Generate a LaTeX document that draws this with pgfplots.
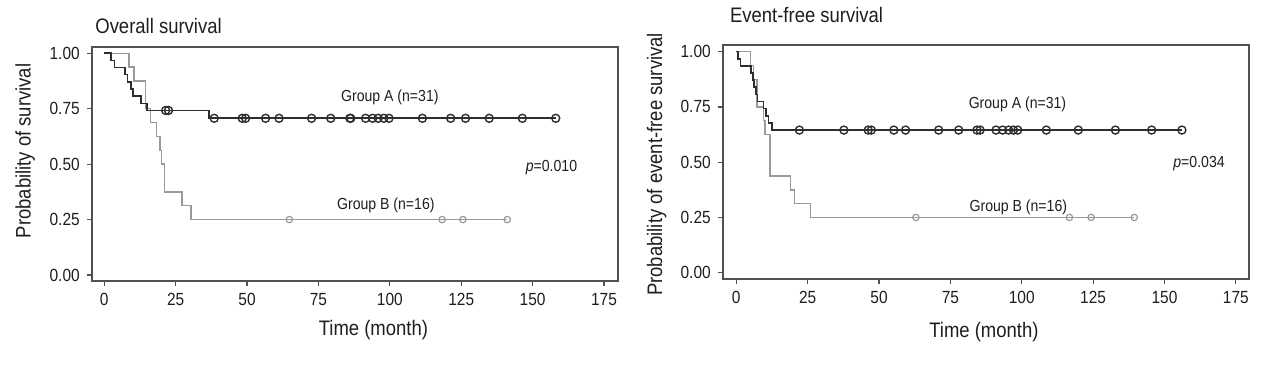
\documentclass[border=0pt]{standalone}
\usepackage{fontspec}
\setmainfont{Liberation Sans}[FakeStretch=0.88]
\usepackage{pgfplots}
\pgfplotsset{compat=1.18}
\definecolor{dk}{HTML}{2E2E2E}
\definecolor{lg}{HTML}{9A9A9A}
\definecolor{fr}{HTML}{505050}
\definecolor{tx}{HTML}{1E1E1E}
\pgfplotsset{km/.style={
  scale only axis, width=263pt, height=117pt,
  axis line style={fr, line width=0.8pt},
  tick style={fr, line width=0.6pt},
  tick align=outside, tick pos=left, major tick length=2.6pt,
  xtick={0,25,50,75,100,125,150,175},
  ytick={0,0.25,0.5,0.75,1},
  yticklabels={0.00,0.25,0.50,0.75,1.00},
  ticklabel style={font=\fontsize{8.8}{10}\selectfont, text=tx},
  /pgf/number format/assume math mode=true,
  label style={font=\fontsize{10.5}{12}\selectfont, text=tx},
  every axis title/.style={font=\fontsize{10.5}{12}\selectfont, text=tx, anchor=west},
  clip=false,
},
kmA/.style={const plot, dk, line width=0.8pt, no marks},
kmB/.style={const plot, lg, line width=0.7pt, no marks},
cA/.style={only marks, mark=o, mark size=2pt, mark options={dk, line width=0.7pt}},
cB/.style={only marks, mark=o, mark size=1.6pt, mark options={lg, line width=0.6pt}},
}
\begin{document}
\begin{tikzpicture}
\useasboundingbox (0,0) rectangle (640pt,-185.5pt);
% ---------- Overall survival ----------
\begin{axis}[km, at={(46pt,-23.5pt)}, anchor=north west,
  xmin=-4.3, xmax=179.9, ymin=-0.027, ymax=1.028,
  title={Overall survival}, title style={at={(axis description cs:-0.007,1.091)}},
  xlabel={Time (month)}, xlabel style={at={(axis description cs:0.535,-0.209)}, anchor=center},
  ylabel={Probability of survival}, ylabel style={at={(axis description cs:-0.127,0.556)}, anchor=center, rotate=0},
]
\addplot[kmB] coordinates {
(0,1) (8.6,0.9375) (10.4,0.875) (14.4,0.75) (16.1,0.6875) (18.2,0.625) (19.5,0.5625)
(20.0,0.5) (21.1,0.375) (27.2,0.3125) (30.3,0.25) (141.1,0.25)};
\addplot[kmA] coordinates {
(0,1) (2.3,0.9677) (3.6,0.9355) (7.2,0.9032) (8.2,0.8710) (9.4,0.8387) (10.1,0.8065)
(12.8,0.7742) (15.0,0.7419) (36.7,0.7066) (158.1,0.7066)};
\addplot[cB] coordinates {(64.8,0.25) (118.3,0.25) (125.6,0.25) (141.1,0.25)};
\addplot[cA] coordinates {(21.5,0.7419) (22.5,0.7419)
(38.5,0.7066) (48.3,0.7066) (49.5,0.7066) (56.5,0.7066) (61.2,0.7066) (72.6,0.7066)
(79.3,0.7066) (86.0,0.7066) (86.3,0.7066) (91.5,0.7066) (94.0,0.7066) (95.9,0.7066)
(97.9,0.7066) (99.7,0.7066) (111.4,0.7066) (121.3,0.7066) (126.5,0.7066) (134.8,0.7066)
(146.4,0.7066) (158.1,0.7066)};
\node[font=\fontsize{8}{9}\selectfont, text=tx] at (axis cs:100,0.800) {Group A (n=31)};
\node[font=\fontsize{8}{9}\selectfont, text=tx] at (axis cs:98.6,0.313) {Group B (n=16)};
\node[font=\fontsize{8}{9}\selectfont, text=tx] at (axis cs:156.6,0.484) {\textit{p}=0.010};
\end{axis}
% ---------- Event-free survival ----------
\begin{axis}[km, at={(361.5pt,-22.5pt)}, anchor=north west,
  xmin=-4.65, xmax=179.6, ymin=-0.0285, ymax=1.030,
  title={Event-free survival}, title style={at={(axis description cs:0.0,1.128)}},
  xlabel={Time (month)}, xlabel style={at={(axis description cs:0.496,-0.225)}, anchor=center},
  ylabel={Probability of event-free survival}, ylabel style={at={(axis description cs:-0.126,0.49)}, anchor=center, rotate=0},
]
\addplot[kmB] coordinates {
(0,1) (4.9,0.9375) (6.1,0.875) (7.2,0.75) (9.5,0.6875) (10.0,0.625) (11.8,0.4375)
(19.0,0.375) (20.3,0.3125) (25.9,0.25) (139.4,0.25)};
\addplot[kmA] coordinates {
(0,1) (0.6,0.9677) (1.5,0.9355) (5.2,0.9032) (5.8,0.8710) (6.3,0.8387) (6.9,0.8065)
(7.4,0.7742) (9.5,0.7419) (10.5,0.7097) (11.3,0.6774) (12.6,0.6452) (156.1,0.6452)};
\addplot[cB] coordinates {(62.9,0.25) (116.7,0.25) (124.3,0.25) (139.4,0.25)};
\addplot[cA] coordinates {
(22.1,0.6452) (37.7,0.6452) (46.2,0.6452) (47.3,0.6452) (55.2,0.6452) (59.3,0.6452)
(70.9,0.6452) (77.9,0.6452) (84.3,0.6452) (85.4,0.6452) (91.0,0.6452) (93.3,0.6452)
(95.4,0.6452) (97.1,0.6452) (98.6,0.6452) (108.6,0.6452) (119.8,0.6452) (132.8,0.6452)
(145.5,0.6452) (156.1,0.6452)};
\node[font=\fontsize{8}{9}\selectfont, text=tx] at (axis cs:98.5,0.763) {Group A (n=31)};
\node[font=\fontsize{8}{9}\selectfont, text=tx] at (axis cs:98.8,0.296) {Group B (n=16)};
\node[font=\fontsize{8}{9}\selectfont, text=tx] at (axis cs:162.1,0.495) {\textit{p}=0.034};
\end{axis}
\end{tikzpicture}
\end{document}
